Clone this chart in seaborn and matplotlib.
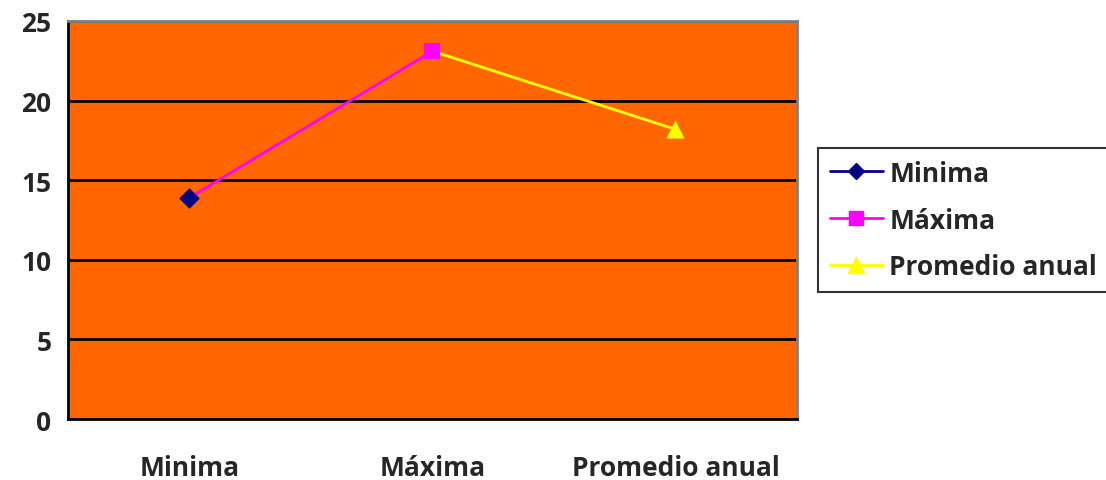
import pandas as pd
import numpy as np
import matplotlib.pyplot as plt
import seaborn as sns
from matplotlib.lines import Line2D

categories = ['Minima', 'Máxima', 'Promedio anual']
values = [13.9, 23.1, 18.2]
colors = ['#000080', '#FF00FF', '#FFFF00']
markers = ['D', 's', '^']

sns.set_style('white')
plt.rcParams['font.family'] = ['Open Sans', 'DejaVu Sans']
plt.rcParams['font.weight'] = 'bold'
FS = 19

fig = plt.figure(figsize=(11.06, 4.81), dpi=100)
ax = fig.add_axes([0.0615, 0.1268, 0.659, 0.8275])
ax.set_facecolor('#FF6600')

# segments: each one ends on the next category and takes its colour
seg = pd.DataFrame({
    'x': [0, 1, 1, 2],
    'y': [values[0], values[1], values[1], values[2]],
    'serie': [categories[1], categories[1], categories[2], categories[2]],
})
sns.lineplot(data=seg, x='x', y='y', hue='serie', palette=colors[1:], linewidth=2,
             legend=False, ax=ax, zorder=3)

pts = pd.DataFrame({'x': [0, 1, 2], 'y': values, 'serie': categories})
for i, row in pts.iterrows():
    sns.scatterplot(x=[row['x']], y=[row['y']], color=colors[i], marker=markers[i],
                    s=[110, 140, 170][i], edgecolor=colors[i], linewidth=0, ax=ax, zorder=4)

ax.set_xlim(-0.5, 2.5)
ax.set_ylim(0, 25)
ax.set_yticks(np.arange(0, 26, 5))
ax.grid(axis='y', color='black', linewidth=2)
ax.set_axisbelow(True)

ax.set_xticks([-0.5, 0.5, 1.5, 2.5])
ax.set_xticklabels([])
ax.set_xticks([0, 1, 2], minor=True)
ax.set_xticklabels(categories, minor=True, fontsize=FS, fontweight='bold')
ax.tick_params(axis='x', which='major', direction='out', length=8, width=1.5, color='black')
ax.tick_params(axis='x', which='minor', length=0, pad=25)
ax.tick_params(axis='y', direction='out', length=8, width=1.5, color='black', labelsize=FS, pad=4)
for lab in ax.get_yticklabels():
    lab.set_fontweight('bold')
ax.set_xlabel('')
ax.set_ylabel('')

ax.spines['left'].set_color('black')
ax.spines['left'].set_linewidth(2)
ax.spines['bottom'].set_color('black')
ax.spines['bottom'].set_linewidth(2)
ax.spines['top'].set_color('#808080')
ax.spines['top'].set_linewidth(2)
ax.spines['right'].set_color('#808080')
ax.spines['right'].set_linewidth(2)
ax.spines['bottom'].set_zorder(5)

handles = [Line2D([0], [0], color=colors[i], marker=markers[i], markersize=[8, 10, 11][i],
                  linewidth=2, markeredgecolor=colors[i]) for i in range(3)]
leg = fig.legend(handles, categories, loc='center left', bbox_to_anchor=(0.7396, 0.5405),
                 frameon=True, fancybox=False, edgecolor='black',
                 prop={'weight': 'bold', 'size': FS}, handlelength=2.0, handletextpad=0.25,
                 borderpad=0.45, borderaxespad=0, labelspacing=0.75)
leg.get_frame().set_linewidth(1.5)

fig.savefig('out.png', dpi=100)
